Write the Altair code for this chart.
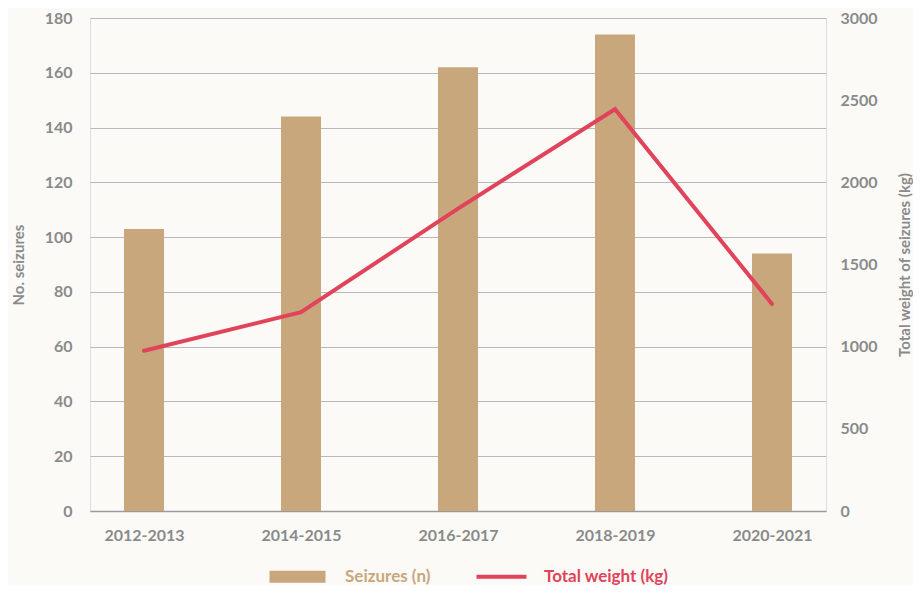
import altair as alt
import pandas as pd

periods = ["2012-2013", "2014-2015", "2016-2017", "2018-2019", "2020-2021"]
seizures_n = [103, 144, 162, 174, 94]
weight_kg = [975, 1210, 1840, 2445, 1260]

series_domain = ["Seizures (n)", "Total weight (kg)"]
series_colors = ["#c8a77c", "#e0435a"]
left_ticks = list(range(0, 181, 20))
right_ticks = list(range(0, 3001, 500))

df = pd.DataFrame({"period": periods, "seizures": seizures_n, "weight": weight_kg})

FONT = "Lato"
GREY = "#8a8a8a"

x_enc = alt.X(
    "period:N",
    sort=periods,
    scale=alt.Scale(type="point", padding=0.344),
    axis=alt.Axis(
        title=None, labelAngle=0, labelFontSize=16, labelFontWeight="bold",
        labelColor=GREY, labelPadding=16, ticks=False, domainColor="#9a9a9a",
        domainWidth=1.5, grid=False, labelFont=FONT,
    ),
)

# symbol paths drawn to the right of the entry origin (unit = 7px with size 196)
legend = alt.Legend(
    title=None,
    orient="none",
    legendX=178,
    legendY=550,
    direction="horizontal",
    padding=0,
    symbolType=alt.expr(
        "datum.value == 'Seizures (n)' ? 'M-1,-0.857H7V0.857H-1Z' : 'M0.14,-0.3H7.28V0.3H0.14Z'"
    ),
    symbolSize=196,
    symbolStrokeWidth=0,
    symbolOpacity=1,
    labelFontSize=17,
    labelFontWeight="bold",
    labelFont=FONT,
    labelColor=alt.expr("datum.value == 'Seizures (n)' ? '#c8a77c' : '#e0435a'"),
    columnPadding=36,
    labelOffset=60,
    labelLimit=300,
)

bars = (
    alt.Chart(df)
    .transform_calculate(series="'Seizures (n)'")
    .mark_bar(size=40)
    .encode(
        x=x_enc,
        y=alt.Y(
            "seizures:Q",
            scale=alt.Scale(domain=[0, 180]),
            axis=alt.Axis(
                values=left_ticks, title="No. seizures", titleFontSize=15,
                titleFontWeight="bold", titleColor=GREY, titleFont=FONT,
                labelFontSize=16, labelFontWeight="bold", labelColor=GREY,
                labelFont=FONT, labelPadding=18, titlePadding=18, ticks=False,
                domain=False, grid=True, gridColor="#b8b8b8", gridWidth=1,
            ),
        ),
        color=alt.Color(
            "series:N",
            scale=alt.Scale(domain=series_domain, range=series_colors),
            legend=legend,
        ),
    )
)

line = (
    alt.Chart(df)
    .mark_line(strokeWidth=4, strokeCap="round", strokeJoin="miter")
    .encode(
        x=x_enc,
        y=alt.Y(
            "weight:Q",
            scale=alt.Scale(domain=[0, 3000]),
            axis=alt.Axis(
                orient="right", values=right_ticks, format="d",
                title="Total weight of seizures (kg)", titleFontSize=15,
                titleFontWeight="bold", titleColor=GREY, titleFont=FONT,
                titleAngle=270, titleBaseline="top",
                labelFontSize=16, labelFontWeight="bold", labelColor=GREY,
                labelFont=FONT, labelPadding=14, titlePadding=20, ticks=False,
                domain=False, grid=False,
            ),
        ),
        color=alt.value("#e0435a"),
    )
)

chart = (
    alt.layer(bars, line)
    .resolve_scale(y="independent")
    .properties(
        width=736,
        height=493,
        background="#fbfaf7",
        padding={"left": 3, "top": 2, "right": 0, "bottom": 0},
    )
    .configure_view(stroke=None)
    .configure(font=FONT)
)

chart.save("out.html", embed_options={"renderer": "svg", "actions": False})
